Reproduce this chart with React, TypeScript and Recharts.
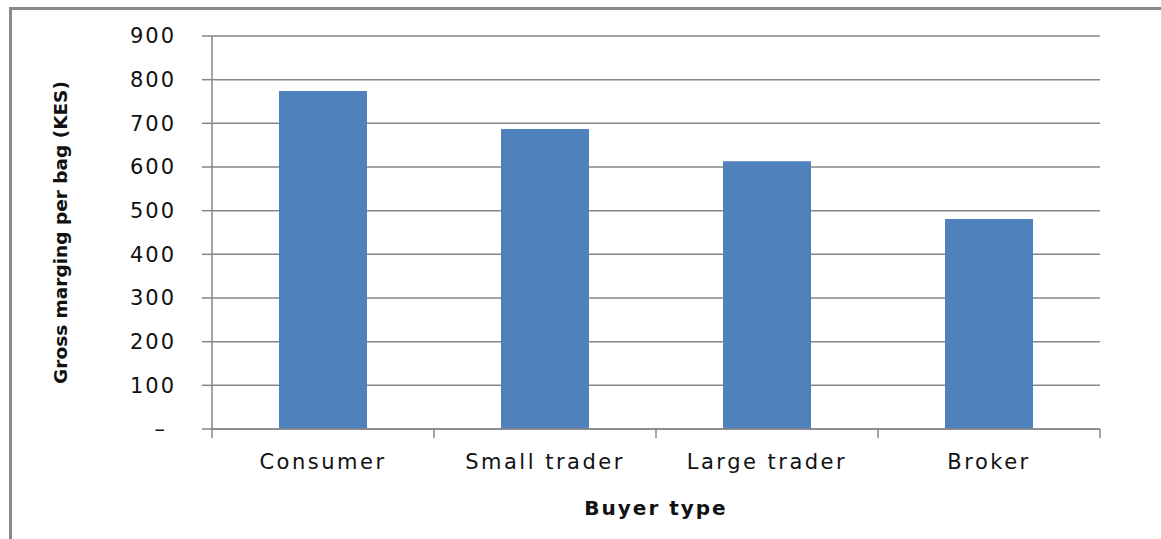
import React from "react";
import { BarChart, Bar, XAxis, YAxis, CartesianGrid } from "recharts";

const buyerTypes = ["Consumer", "Small trader", "Large trader", "Broker"];
const grossMargin = [774, 687, 613, 481];
const yTicks = [0, 100, 200, 300, 400, 500, 600, 700, 800, 900];

const data = buyerTypes.map((name, i) => ({ name, value: grossMargin[i] }));

const W = 1161;
const H = 539;
const MARGIN = { top: 36, right: 61, left: 0, bottom: 0 };
const Y_AXIS_W = 212;
const X_AXIS_H = 110;
// width of one category band, used for the boundary tick marks
const BAND = (W - MARGIN.left - MARGIN.right - Y_AXIS_W) / buyerTypes.length;
const GRID = "#868686";
const FONT = "'DejaVu Sans', Verdana, sans-serif";

function XTick(props: any) {
  const { x, y, payload, index } = props;
  const half = BAND / 2;
  return (
    <g>
      <line x1={x - half} x2={x - half} y1={y - 26} y2={y - 17} stroke={GRID} strokeWidth={1.5} />
      {index === buyerTypes.length - 1 && (
        <line x1={x + half} x2={x + half} y1={y - 26} y2={y - 17} stroke={GRID} strokeWidth={1.5} />
      )}
      <text
        x={x}
        y={y}
        dy="0.68em"
        textAnchor="middle"
        fill="#111"
        fontSize={21}
        letterSpacing={2.5}
        fontFamily={FONT}
      >
        {payload.value}
      </text>
    </g>
  );
}

function YTick(props: any) {
  const { x, y, payload } = props;
  const isZero = payload.value === 0;
  return (
    <text
      x={isZero ? x - 9 : x}
      y={y}
      dy="0.355em"
      textAnchor="end"
      fill="#111"
      fontSize={21}
      letterSpacing={2}
      fontFamily={FONT}
    >
      {isZero ? "–" : payload.value}
    </text>
  );
}

export default function App() {
  return (
    <div style={{ position: "absolute", left: 0, top: 0, width: W, height: H, background: "#fff" }}>
      <div
        style={{
          position: "absolute",
          left: 9,
          top: 7,
          width: W,
          height: H,
          borderTop: "3px solid #8a8a8a",
          borderLeft: "3px solid #8a8a8a",
        }}
      />
      <div style={{ position: "absolute", left: 0, top: 0 }}>
        <BarChart width={W} height={H} data={data} margin={MARGIN}>
          <CartesianGrid vertical={false} stroke={GRID} strokeWidth={1.5} />
          <XAxis
            dataKey="name"
            height={X_AXIS_H}
            stroke={GRID}
            strokeWidth={1.5}
            tickLine={false}
            tickSize={0}
            tickMargin={26}
            tick={<XTick />}
            interval={0}
            label={{
              value: "Buyer type",
              position: "center",
              dy: 24,
              fontSize: 20,
              fontWeight: "bold",
              letterSpacing: 2,
              fill: "#111",
              fontFamily: FONT,
            }}
          />
          <YAxis
            width={Y_AXIS_W}
            domain={[0, 900]}
            ticks={yTicks}
            interval={0}
            stroke={GRID}
            strokeWidth={1.5}
            tickSize={10}
            tickLine={{ stroke: GRID, strokeWidth: 1.5 }}
            tickMargin={26}
            tick={<YTick />}
            label={{
              value: "Gross marging per bag (KES)",
              angle: -90,
              position: "center",
              dx: -46,
              fontSize: 18.5,
              fontWeight: "bold",
              fill: "#111",
              fontFamily: FONT,
            }}
          />
          <Bar dataKey="value" fill="#4F81BD" barSize={88} isAnimationActive={false} />
        </BarChart>
      </div>
    </div>
  );
}
